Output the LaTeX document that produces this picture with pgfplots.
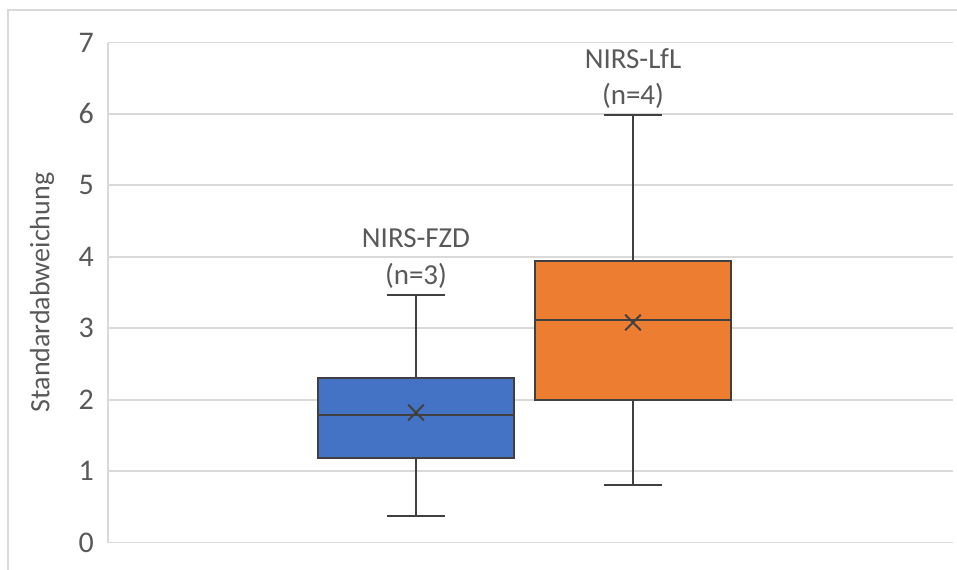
\documentclass[border=0pt]{standalone}
\usepackage{fontspec}
\setmainfont{Carlito}
\usepackage{pgfplots}
\pgfplotsset{compat=1.18}
\usepgfplotslibrary{statistics}
\definecolor{txt}{HTML}{595959}
\definecolor{gridc}{HTML}{D9D9D9}
\definecolor{bblue}{HTML}{4472C4}
\definecolor{borange}{HTML}{ED7D31}
\definecolor{edge}{HTML}{404040}
\begin{document}
\begin{tikzpicture}
\begin{axis}[
  width=422.5pt, height=250pt, scale only axis,
  xmin=0, xmax=8.45, ymin=0, ymax=7,
  ytick={0,1,...,7}, xtick=\empty,
  axis x line=none, axis y line*=left,
  y axis line style={draw=gridc, line width=0.9pt},
  ymajorgrids, grid style={draw=gridc, line width=0.9pt},
  major tick length=0pt,
  tick label style={font=\fontsize{15}{18}\selectfont, text=txt},
  /pgf/number format/assume math mode=true,
  yticklabel style={xshift=-3.5pt},
  ylabel={Standardabweichung},
  every axis y label/.style={at={(axis description cs:0,0.5)}, xshift=-33pt, rotate=90, anchor=center, font=\fontsize{14}{17}\selectfont, text=txt},
  boxplot/draw direction=y,
  clip=false,
]
\addplot[boxplot prepared={draw position=3.08, box extend=1.96, whisker extend=0.58,
  median=1.78, lower quartile=1.19, upper quartile=2.30,
  lower whisker=0.37, upper whisker=3.46},
  fill=bblue, draw=edge, line width=1pt, solid] coordinates {};
\addplot[boxplot prepared={draw position=5.25, box extend=1.96, whisker extend=0.58,
  median=3.11, lower quartile=2.00, upper quartile=3.94,
  lower whisker=0.81, upper whisker=5.98},
  fill=borange, draw=edge, line width=1pt, solid] coordinates {};
\addplot[only marks, mark=x, mark size=5.5pt, draw=edge, line width=1pt] coordinates {(3.08,1.82) (5.25,3.08)};
\node[anchor=base, yshift=5.5pt, font=\fontsize{14.5}{17}\selectfont, text=txt] at (axis cs:3.08,3.46) {(n=3)};
\node[anchor=base, yshift=24pt, font=\fontsize{14.5}{17}\selectfont, text=txt] at (axis cs:3.08,3.46) {NIRS-FZD};
\node[anchor=base, yshift=5.5pt, font=\fontsize{14.5}{17}\selectfont, text=txt] at (axis cs:5.25,5.98) {(n=4)};
\node[anchor=base, yshift=23.5pt, font=\fontsize{14.5}{17}\selectfont, text=txt] at (axis cs:5.25,5.98) {NIRS-LfL};
\end{axis}
\draw[gridc, line width=0.9pt] (-50pt,-20pt) -- (-50pt,266.25pt) -- (440pt,266.25pt);
\pgfresetboundingbox
\useasboundingbox (-54pt,-13.25pt) rectangle (424.5pt,271.25pt);
\end{tikzpicture}
\end{document}
